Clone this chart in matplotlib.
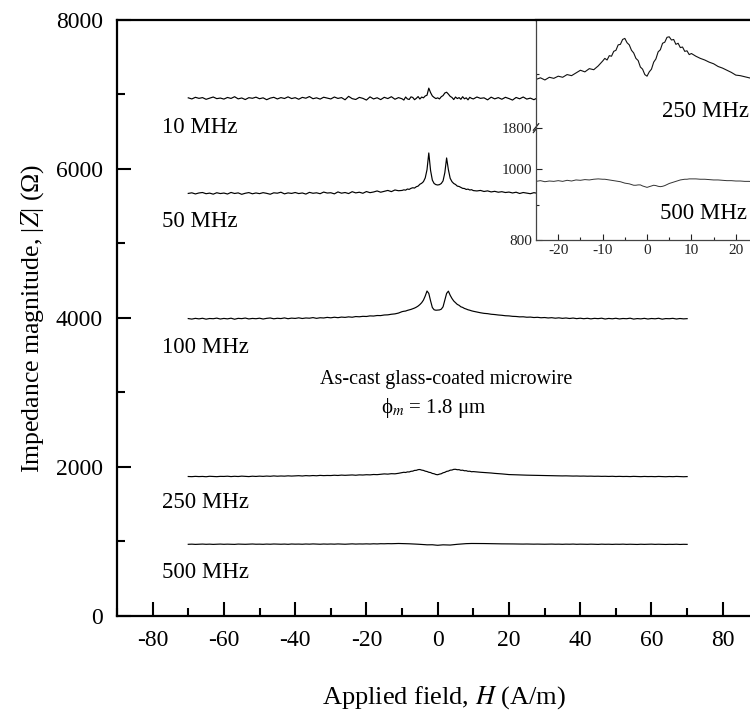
import matplotlib.pyplot as plt
import numpy as np

plt.rcParams['font.family'] = ['Liberation Serif', 'DejaVu Serif']
plt.rcParams['mathtext.fontset'] = 'stix'
plt.rcParams['axes.unicode_minus'] = False

# field sweep: 1 A/m steps in the wings, 0.5 A/m steps around zero field
H = np.concatenate([np.arange(-70, -10), np.arange(-10, 10.5, 0.5), np.arange(11, 71)])

z_10 = [
    6955, 6940, 6962, 6948, 6958, 6935, 6950, 6966, 6944, 6952,
    6938, 6960, 6947, 6970, 6941, 6953, 6932, 6957, 6949, 6964,
    6943, 6955, 6930, 6951, 6962, 6940, 6958, 6946, 6968, 6945,
    6957, 6936, 6961, 6950, 6972, 6943, 6955, 6938, 6963, 6952,
    6940, 6966, 6947, 6958, 6929, 6975, 6944, 6933, 6961, 6948,
    6925, 6968, 6940, 6956, 6931, 6962, 6945, 6970, 6936, 6958,
    # -10 .. 10 (0.5 steps)
    6942, 6925, 6966, 6940, 6933, 6968, 6960, 6930, 6948, 6972,
    6939, 6965, 6955, 6980, 6990, 7085, 7025, 6980, 6960, 6945,
    6955, 6940, 6970, 6985, 7020, 7030, 7005, 6975, 6960, 6932,
    6966, 6945, 6958, 6935, 6970, 6942, 6955, 6928, 6962, 6948,
    6940,
    6966, 6948, 6955, 6928, 6964, 6941, 6958, 6936, 6962, 6945,
    6925, 6960, 6942, 6966, 6938, 6951, 6930, 6955, 6947, 6940,
    6958, 6950, 6962, 6937, 6955, 6944, 6960, 6948, 6939, 6956,
    6945, 6963, 6940, 6952, 6958, 6935, 6950, 6961, 6944, 6953,
    6941, 6957, 6946, 6964, 6938, 6955, 6949, 6960, 6942, 6951,
    6937, 6958, 6945, 6962, 6940, 6954, 6947, 6959, 6943, 6950,
]

z_50 = [
    5672, 5680, 5665, 5678, 5684, 5668, 5676, 5662, 5681, 5670,
    5677, 5664, 5685, 5671, 5679, 5660, 5674, 5683, 5667, 5678,
    5669, 5682, 5673, 5661, 5680, 5675, 5688, 5666, 5679, 5672,
    5684, 5670, 5678, 5663, 5686, 5674, 5680, 5668, 5690, 5677,
    5681, 5666, 5692, 5675, 5684, 5670, 5695, 5679, 5688, 5674,
    5697, 5682, 5691, 5705, 5688, 5700, 5712, 5696, 5718, 5708,
    5712, 5720, 5716, 5731, 5726, 5740, 5748, 5744, 5762, 5770,
    5795, 5808, 5830, 5880, 5990, 6215, 5980, 5850, 5805, 5790,
    5785, 5790, 5805, 5840, 5950, 6148, 5990, 5875, 5830, 5805,
    5792, 5770, 5765, 5752, 5740, 5738, 5725, 5730, 5718, 5722,
    5710,
    5705, 5712, 5698, 5706, 5692, 5700, 5688, 5695, 5684, 5690,
    5678, 5688, 5671, 5684, 5676, 5668, 5682, 5673, 5686, 5670,
    5679, 5665, 5683, 5672, 5680, 5667, 5685, 5674, 5662, 5678,
    5671, 5684, 5666, 5679, 5673, 5687, 5669, 5677, 5664, 5681,
    5674, 5668, 5683, 5670, 5679, 5663, 5676, 5685, 5671, 5678,
    5666, 5680, 5673, 5687, 5669, 5677, 5664, 5682, 5675, 5670,
]

z_100 = [
    3992, 3985, 3995, 3988, 3996, 3984, 3993, 3990, 3998, 3986,
    3994, 3988, 3997, 3983, 3995, 3991, 3999, 3987, 3994, 3990,
    3997, 3986, 3995, 4000, 3989, 3996, 3992, 4001, 3990, 3998,
    3994, 4002, 3993, 4000, 3997, 4005, 3995, 4003, 4000, 4008,
    4002, 4010, 4004, 4012, 4008, 4015, 4010, 4019, 4016, 4022,
    4020, 4028, 4026, 4033, 4032, 4040, 4042, 4050, 4055, 4066,
    4085, 4090, 4093, 4102, 4108, 4115, 4124, 4133, 4145, 4160,
    4180, 4205, 4240, 4295, 4362, 4330, 4230, 4140, 4110, 4104,
    4106, 4108, 4118, 4150, 4240, 4330, 4360, 4305, 4262, 4228,
    4205, 4182, 4170, 4150, 4142, 4128, 4120, 4110, 4104, 4096,
    4090,
    4080, 4070, 4062, 4058, 4050, 4046, 4040, 4036, 4030, 4028,
    4022, 4020, 4015, 4016, 4010, 4012, 4006, 4009, 4003, 4006,
    4000, 4004, 3997, 4002, 3995, 4000, 3993, 3999, 3991, 3997,
    3990, 3996, 3988, 3995, 3991, 3997, 3986, 3994, 3989, 3996,
    3987, 3993, 3990, 3997, 3985, 3992, 3988, 3995, 3986, 3993,
    3989, 3996, 3984, 3992, 3990, 3995, 3986, 3993, 3988, 3991,
]

z_250 = [
    1872, 1870, 1874, 1871, 1873, 1869, 1875, 1872, 1870, 1874,
    1873, 1876, 1871, 1875, 1872, 1877, 1874, 1871, 1876, 1873,
    1877, 1874, 1878, 1875, 1880, 1876, 1879, 1877, 1881, 1878,
    1880, 1883, 1879, 1884, 1881, 1885, 1882, 1887, 1884, 1886,
    1885, 1889, 1886, 1891, 1888, 1890, 1893, 1889, 1894, 1892,
    1896, 1894, 1899, 1897, 1902, 1907, 1904, 1910, 1908, 1915,
    1924, 1929, 1926, 1934, 1933, 1942, 1944, 1954, 1955, 1964,
    1966, 1958, 1954, 1944, 1939, 1929, 1925, 1913, 1909, 1899,
    1896, 1904, 1909, 1922, 1928, 1941, 1945, 1957, 1959, 1968,
    1969, 1963, 1964, 1955, 1957, 1949, 1950, 1942, 1943, 1936,
    1938,
    1933, 1929, 1926, 1922, 1919, 1914, 1911, 1907, 1903, 1898,
    1897, 1895, 1893, 1891, 1890, 1889, 1887, 1888, 1885, 1886,
    1884, 1882, 1883, 1881, 1880, 1881, 1879, 1878, 1879, 1877,
    1878, 1876, 1877, 1875, 1876, 1874, 1875, 1873, 1875, 1872,
    1874, 1872, 1873, 1871, 1874, 1872, 1870, 1873, 1871, 1872,
    1870, 1873, 1871, 1869, 1872, 1870, 1873, 1871, 1869, 1871,
]

z_500 = [
    962, 964, 961, 963, 965, 962, 964, 961, 963, 965,
    962, 964, 963, 961, 965, 963, 962, 964, 966, 963,
    964, 962, 965, 963, 966, 964, 963, 965, 962, 966,
    964, 965, 963, 966, 964, 967, 965, 963, 966, 964,
    966, 964, 967, 965, 963, 966, 968, 965, 967, 966,
    968, 966, 969, 967, 970, 969, 971, 970, 972, 973,
    972, 972, 971, 970, 969, 968, 967, 966, 965, 963,
    961, 960, 959, 957, 955, 955, 956, 956, 953, 951,
    949, 951, 953, 955, 954, 952, 951, 952, 954, 957,
    960, 962, 964, 966, 968, 970, 971, 972, 972, 973,
    973,
    973, 972, 972, 971, 970, 970, 969, 968, 968, 967,
    967, 966, 966, 965, 966, 965, 964, 965, 964, 963,
    964, 965, 963, 964, 962, 964, 963, 965, 962, 964,
    963, 962, 964, 963, 961, 964, 962, 963, 961, 963,
    962, 964, 961, 963, 962, 960, 963, 961, 962, 964,
    961, 963, 962, 960, 962, 961, 963, 960, 962, 961,
]

curves = [z_10, z_50, z_100, z_250, z_500]
freq_labels = ['10 MHz', '50 MHz', '100 MHz', '250 MHz', '500 MHz']
label_y = [6560, 5290, 3610, 1520, 590]

fig = plt.figure(figsize=(7.5, 7.16), dpi=100)

# main panel (right edge runs off the page)
ax = fig.add_axes([0.156, 0.1397, 0.8552, 0.8324])
for z in curves:
    ax.plot(H, z, color='k', lw=0.85)
for lab, y in zip(freq_labels, label_y):
    ax.text(-77.5, y, lab, fontsize=16.5, ha='left', va='center')

ax.text(2.5, 3170, 'As-cast glass-coated microwire', fontsize=14.5, ha='center', va='center')
ax.text(-1.0, 2790, r'ϕ$_{m}$ = 1.8 μm', fontsize=15, ha='center', va='center')

ax.set_xlim(-90, 90)
ax.set_ylim(0, 8000)
ax.set_xticks(np.arange(-80, 81, 20))
ax.set_xticks(np.arange(-90, 91, 10), minor=True)
ax.set_yticks(np.arange(0, 8001, 2000))
ax.set_yticks(np.arange(0, 8001, 1000), minor=True)
ax.tick_params(which='both', direction='in', width=1.5, labelsize=17, pad=10)
ax.tick_params(which='major', length=10)
ax.tick_params(which='minor', length=6)
for s in ax.spines.values():
    s.set_linewidth(1.6)
ax.set_xlabel('Applied field, $H$ (A/m)', fontsize=19)
ax.set_ylabel('Impedance magnitude, |$Z$| (Ω)', fontsize=18.5)
ax.xaxis.set_label_coords(0.51, -0.115)
ax.yaxis.set_label_coords(-0.11, 0.5)

# inset with a broken y axis
sel = (H >= -25) & (H <= 25)
ax_lo = fig.add_axes([0.7147, 0.6648, 0.296, 0.1564])
ax_hi = fig.add_axes([0.7147, 0.8212, 0.296, 0.1508])

ax_hi.plot(H[sel], np.array(z_250)[sel], color='#111111', lw=0.8)
ax_lo.plot(H[sel], np.array(z_500)[sel], color='#333333', lw=0.7)
ax_hi.text(3.4, 1830, '250 MHz', fontsize=16.5, ha='left', va='center')
ax_lo.text(3.0, 876, '500 MHz', fontsize=16.5, ha='left', va='center')

for a in (ax_lo, ax_hi):
    a.set_xlim(-25, 25)
    a.tick_params(which='both', direction='in', width=0.8, labelsize=11, pad=3,
                  colors='#222222')
    a.tick_params(which='major', length=4)
    a.tick_params(which='minor', length=2.5)
    for s in a.spines.values():
        s.set_linewidth(0.9)
        s.set_color('#444444')

ax_lo.set_ylim(800, 1117)
ax_lo.set_yticks([800, 1000])
ax_lo.set_yticks([900], minor=True)
ax_lo.set_xticks(np.arange(-20, 21, 10))
ax_lo.set_xticks([-15, -5, 5, 15], minor=True)
ax_lo.spines['top'].set_visible(False)

ax_hi.set_ylim(1800, 2000)
ax_hi.set_yticks([1800])
ax_hi.set_yticks([1900], minor=True)
ax_hi.set_xticks([])
ax_hi.spines['bottom'].set_visible(False)
ax_hi.spines['top'].set_color('k')
ax_hi.spines['top'].set_linewidth(1.6)

# break marks on the inset's y axis
ax_lo.plot([-0.012, 0.012], [0.96, 1.02], transform=ax_lo.transAxes,
           color='#222222', lw=0.9, clip_on=False)
ax_hi.plot([-0.012, 0.012], [-0.02, 0.04], transform=ax_hi.transAxes,
           color='#222222', lw=0.9, clip_on=False)

fig.savefig('out.png', dpi=100)
